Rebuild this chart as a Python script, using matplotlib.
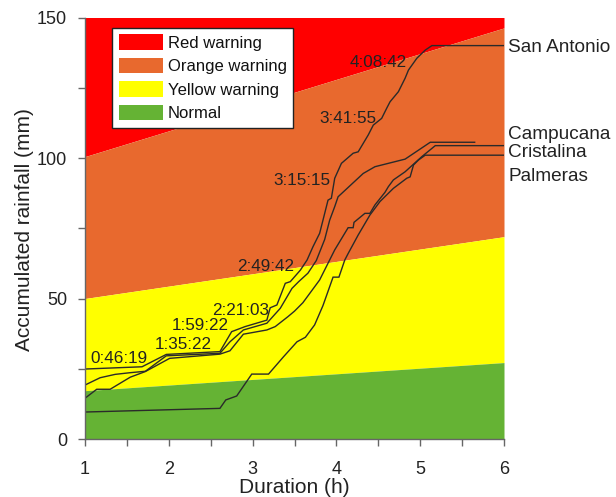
import matplotlib
matplotlib.use('Agg')
import matplotlib.pyplot as plt
from matplotlib.patches import Patch

plt.rcParams['font.family'] = ['Liberation Sans', 'DejaVu Sans']

# ---- warning thresholds (accumulated rainfall vs duration) ----
threshold_hours = [1, 6]
normal_upper = [17.2, 27.2]
yellow_upper = [50.0, 72.0]
orange_upper = [100.5, 146.3]
red_upper = [150, 150]

band_labels = ['Red warning', 'Orange warning', 'Yellow warning', 'Normal']
band_colors = ['#FF0000', '#E8692E', '#FFFF00', '#65B334']

# ---- stations: accumulated rainfall curves ----
station_names = ['San Antonio', 'Campucana', 'Cristalina', 'Palmeras']

san_antonio_h = [1.0, 1.68, 1.97, 2.61, 2.75, 2.91, 3.17, 3.21, 3.29, 3.39, 3.45,
                 3.57, 3.65, 3.72, 3.80, 3.84, 3.90, 3.94, 3.98, 4.06, 4.20, 4.26,
                 4.38, 4.44, 4.54, 4.60, 4.64, 4.74, 4.82, 4.86, 4.96, 5.06, 5.14, 6.0]
san_antonio_mm = [24.9, 25.7, 30.1, 31.1, 38.2, 40.0, 42.3, 46.7, 47.7, 55.4, 56.0,
                  60.1, 63.7, 68.4, 73.2, 77.9, 85.0, 85.7, 92.8, 98.1, 101.7, 102.2,
                  108.2, 111.7, 114.1, 117.7, 120.0, 123.6, 128.4, 131.3, 135.5, 138.4, 140.0, 140.0]

campucana_h = [1.0, 1.18, 1.36, 1.54, 1.72, 1.97, 2.61, 2.73, 2.89, 3.17, 3.33, 3.47,
               3.55, 3.66, 3.76, 3.86, 3.92, 3.98, 4.02, 4.32, 4.46, 4.82, 5.12, 5.65]
campucana_mm = [19.2, 21.8, 23.0, 23.6, 24.1, 29.6, 30.5, 34.6, 38.8, 41.2, 46.5, 53.6,
                56.0, 59.0, 63.5, 71.0, 77.9, 82.7, 86.2, 94.5, 96.9, 99.6, 105.6, 105.6]

cristalina_h = [1.0, 1.14, 1.30, 1.54, 1.72, 2.01, 2.61, 2.73, 2.89, 3.17, 3.27, 3.42,
                3.50, 3.60, 3.80, 3.98, 4.14, 4.20, 4.21, 4.34, 4.40, 4.46, 4.58, 4.62,
                4.68, 4.82, 5.02, 5.18, 6.0]
cristalina_mm = [14.5, 17.7, 17.7, 22.0, 24.0, 28.7, 30.2, 31.4, 37.3, 38.8, 40.0, 43.5,
                 45.5, 48.5, 56.6, 67.3, 75.2, 75.2, 77.1, 80.3, 80.3, 83.3, 87.8, 89.8,
                 92.2, 95.1, 100.5, 104.4, 104.4]

palmeras_h = [1.0, 2.61, 2.68, 2.81, 2.99, 3.19, 3.37, 3.53, 3.63, 3.74, 3.84, 3.96, 4.03,
              4.10, 4.14, 4.26, 4.40, 4.52, 4.68, 4.84, 4.88, 4.92, 4.98, 5.06, 6.0]
palmeras_mm = [9.6, 10.9, 13.9, 15.3, 23.1, 23.1, 29.3, 34.6, 36.2, 40.6, 47.5, 57.6, 57.6,
               63.7, 66.0, 72.6, 79.7, 84.5, 89.2, 92.8, 93.3, 97.5, 99.3, 101.0, 101.0]

time_labels = ['0:46:19', '1:35:22', '1:59:22', '2:21:03',
               '2:49:42', '3:15:15', '3:41:55', '4:08:42']

x_ticks = [1, 2, 3, 4, 5, 6]
x_minor = [1.5, 2.5, 3.5, 4.5, 5.5]
y_ticks = [0, 50, 100, 150]
y_minor = [25, 75, 125]

# ---- placement (layout only) ----
time_label_pos = [(1.06, 27.2), (1.835, 31.9), (2.035, 38.8), (2.52, 44.0),
                  (2.82, 59.8), (3.25, 90.4), (3.80, 112.3), (4.16, 132.5)]
station_label_pos = [(6.05, 137.6), (6.05, 106.6), (6.05, 100.2), (6.05, 91.8)]

fig = plt.figure(figsize=(6.16, 4.97), dpi=100)
ax = fig.add_axes([85 / 616, (497 - 439) / 497, 419 / 616, 421.5 / 497])

# bands
ax.fill_between(threshold_hours, orange_upper, red_upper, color=band_colors[0], lw=0)
ax.fill_between(threshold_hours, yellow_upper, orange_upper, color=band_colors[1], lw=0)
ax.fill_between(threshold_hours, normal_upper, yellow_upper, color=band_colors[2], lw=0)
ax.fill_between(threshold_hours, [0, 0], normal_upper, color=band_colors[3], lw=0)

line_color = '#2a2a2a'
for hx, my in [(san_antonio_h, san_antonio_mm), (campucana_h, campucana_mm),
               (cristalina_h, cristalina_mm), (palmeras_h, palmeras_mm)]:
    ax.plot(hx, my, color=line_color, lw=1.0, solid_joinstyle='miter')

for txt, (tx, ty) in zip(time_labels, time_label_pos):
    ax.text(tx, ty, txt, fontsize=12.3, color='#222222', ha='left', va='baseline')

for name, (tx, ty) in zip(station_names, station_label_pos):
    ax.text(tx, ty, name, fontsize=13.7, color='#222222', ha='left', va='baseline',
            clip_on=False)

ax.set_xlim(1, 6)
ax.set_ylim(0, 150)
ax.set_xticks(x_ticks)
ax.set_xticks(x_minor, minor=True)
ax.set_yticks(y_ticks)
ax.set_yticks(y_minor, minor=True)

for s in ['top', 'right']:
    ax.spines[s].set_visible(False)
for s in ['left', 'bottom']:
    ax.spines[s].set_color('#666666')
    ax.spines[s].set_linewidth(1.0)

ax.tick_params(axis='both', which='both', direction='out', length=5, width=1.0,
               color='#666666')
ax.tick_params(axis='x', which='major', labelsize=13, labelcolor='#222222', pad=11)
ax.tick_params(axis='y', which='major', labelsize=13, labelcolor='#222222', pad=8)

ax.set_xlabel('Duration (h)', fontsize=15, color='#222222')
ax.set_ylabel('Accumulated rainfall (mm)', fontsize=15, color='#222222')
ax.xaxis.set_label_coords(0.5, -0.092)
ax.yaxis.set_label_coords(-0.122, 0.496)

handles = [Patch(facecolor=c, edgecolor='none') for c in band_colors]
leg = ax.legend(handles, band_labels, loc='upper left', bbox_to_anchor=(0.065, 0.976),
                borderaxespad=0, frameon=True, fancybox=False, edgecolor='#222222',
                framealpha=1, fontsize=12, handlelength=2.65, handleheight=1.08,
                handletextpad=0.3, labelspacing=0.42, borderpad=0.38)
leg.get_frame().set_linewidth(1.0)
for t in leg.get_texts():
    t.set_color('#111111')

fig.savefig('out.png', dpi=100)
